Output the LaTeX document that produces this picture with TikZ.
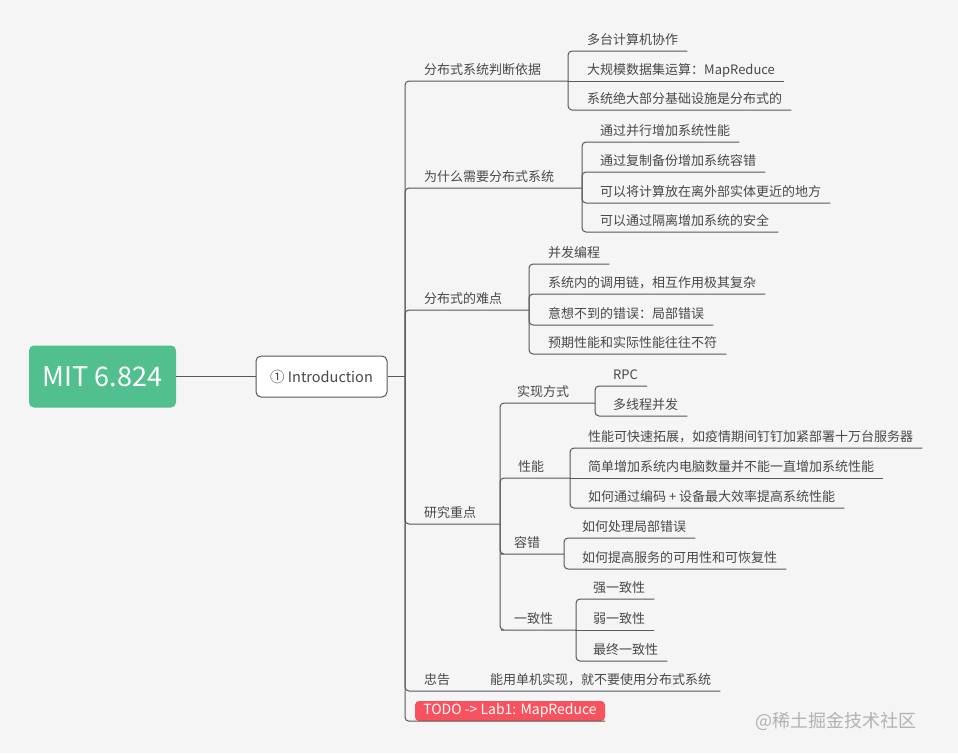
\documentclass[tikz,border=0pt]{standalone}
\usepackage{fontspec}
\setmainfont{Noto Sans CJK SC}
\usepackage{tikz}
\definecolor{mmgreen}{RGB}{82,192,142}
\definecolor{mmred}{RGB}{248,82,94}
\definecolor{mmline}{RGB}{88,88,88}
\definecolor{mmtext}{RGB}{72,72,72}
\definecolor{mmbg}{RGB}{245,245,245}
\definecolor{mmmark}{RGB}{178,178,178}
\tikzstyle{link} = [line width=1pt, color=mmline, rounded corners=4pt]
\tikzstyle{topic} = [anchor=south west, inner xsep=9pt, inner ysep=3pt, text height=10pt, text depth=3pt, text=mmtext, font=\fontsize{13}{13}\selectfont]
\tikzstyle{rootbox} = [fill=mmgreen, rounded corners=5pt, minimum width=147pt, minimum height=62pt, text=white, font=\fontsize{27}{27}\selectfont]
\tikzstyle{introbox} = [draw=mmline, line width=1pt, fill=white, rounded corners=5pt, minimum width=131pt, minimum height=41pt, text=mmtext, font=\fontsize{14.5}{14.5}\selectfont]
\tikzstyle{todobox} = [fill=mmred, rounded corners=4pt, minimum width=190pt, minimum height=20pt, inner sep=0pt, text=white, font=\fontsize{14}{14}\selectfont]

\begin{document}
\begin{tikzpicture}[x=1pt, y=-1pt]
\fill[mmbg] (0,0) rectangle (958,753);
% root and first topic
\node[rootbox] (root) at (102.5,376.5) {MIT 6.824};
\node[introbox] (intro) at (321.5,376.5) {① Introduction};
\coordinate (trunk) at (405,376.5);
\draw[link] (root.east) -- (intro.west);
\draw[link] (intro.east) -- (trunk);

% main branches
\node[topic] (basis) at (415,81) {分布式系统判断依据};
\node[topic] (why) at (415,188) {为什么需要分布式系统};
\node[topic] (hard) at (415,310) {分布式的难点};
\node[topic] (focus) at (415,524) {研究重点};
\node[topic] (advice) at (415,691) {忠告};
\node[todobox] (todo) at (510,711) {TODO -> Lab1: MapReduce};

\coordinate (basisJ) at (568,81);
\coordinate (whyJ) at (582,188);
\coordinate (hardJ) at (529,310);
\coordinate (focusJ) at (500,524);

\foreach \b/\j in {basis/basisJ, why/whyJ, hard/hardJ, focus/focusJ}
  \draw[link] (trunk) |- (\b.south west) -- (\b.south east) -- (\j);

% 分布式系统判断依据
\node[topic] (b1) at (578,51) {多台计算机协作};
\node[topic] (b2) at (578,81) {大规模数据集运算：MapReduce};
\node[topic] (b3) at (578,110) {系统绝大部分基础设施是分布式的};
\foreach \c in {b1,b3}
  \draw[link] (basisJ) |- (\c.south west) -- (\c.south east);
\draw[link] (basisJ) -- (b2.south east);

% 为什么需要分布式系统
\node[topic] (w1) at (591,142) {通过并行增加系统性能};
\node[topic] (w2) at (591,172) {通过复制备份增加系统容错};
\node[topic] (w3) at (591,203) {可以将计算放在离外部实体更近的地方};
\node[topic] (w4) at (591,232) {可以通过隔离增加系统的安全};
\foreach \c in {w1,w2,w3,w4}
  \draw[link] (whyJ) |- (\c.south west) -- (\c.south east);

% 分布式的难点
\node[topic] (h1) at (539,264) {并发编程};
\node[topic] (h2) at (539,294) {系统内的调用链，相互作用极其复杂};
\node[topic] (h3) at (539,325) {意想不到的错误：局部错误};
\node[topic] (h4) at (539,354) {预期性能和实际性能往往不符};
\foreach \c in {h1,h2,h3,h4}
  \draw[link] (hardJ) |- (\c.south west) -- (\c.south east);

% 研究重点
\node[topic] (impl) at (508,403) {实现方式};
\node[topic] (perf) at (509,478) {性能};
\node[topic] (tol) at (505,554) {容错};
\node[topic] (cons) at (505,630) {一致性};
\coordinate (implJ) at (595,403);
\coordinate (perfJ) at (570,478);
\coordinate (tolJ) at (564,554);
\coordinate (consJ) at (576,630);
\foreach \b/\j in {impl/implJ, perf/perfJ, tol/tolJ, cons/consJ}
  \draw[link] (focusJ) |- (\b.south west) -- (\b.south east) -- (\j);

\node[topic] (i1) at (604,386) {RPC};
\node[topic] (i2) at (604,416) {多线程并发};
\foreach \c in {i1,i2}
  \draw[link] (implJ) |- (\c.south west) -- (\c.south east);

\node[topic] (p1) at (579,448) {性能可快速拓展，如疫情期间钉钉加紧部署十万台服务器};
\node[topic] (p2) at (579,478) {简单增加系统内电脑数量并不能一直增加系统性能};
\node[topic] (p3) at (579,508) {如何通过编码 + 设备最大效率提高系统性能};
\foreach \c in {p1,p3}
  \draw[link] (perfJ) |- (\c.south west) -- (\c.south east);
\draw[link] (perfJ) -- (p2.south east);

\node[topic] (t1) at (573,538) {如何处理局部错误};
\node[topic] (t2) at (573,569) {如何提高服务的可用性和可恢复性};
\foreach \c in {t1,t2}
  \draw[link] (tolJ) |- (\c.south west) -- (\c.south east);

\node[topic] (c1) at (584,599) {强一致性};
\node[topic] (c2) at (584,630) {弱一致性};
\node[topic] (c3) at (584,661) {最终一致性};
\foreach \c in {c1,c3}
  \draw[link] (consJ) |- (\c.south west) -- (\c.south east);
\draw[link] (consJ) -- (c2.south east);

% 忠告 and todo
\node[topic] (a1) at (481,691) {能用单机实现，就不要使用分布式系统};
\draw[link] (trunk) |- (advice.south west) -- (advice.south east) -- (a1.south west) -- (a1.south east);
\draw[link] (trunk) |- (todo.south west) -- (todo.south east);

\node[anchor=west, text=mmmark, font=\fontsize{18}{18}\selectfont] (mark) at (752,721) {@稀土掘金技术社区};
\end{tikzpicture}
\end{document}
